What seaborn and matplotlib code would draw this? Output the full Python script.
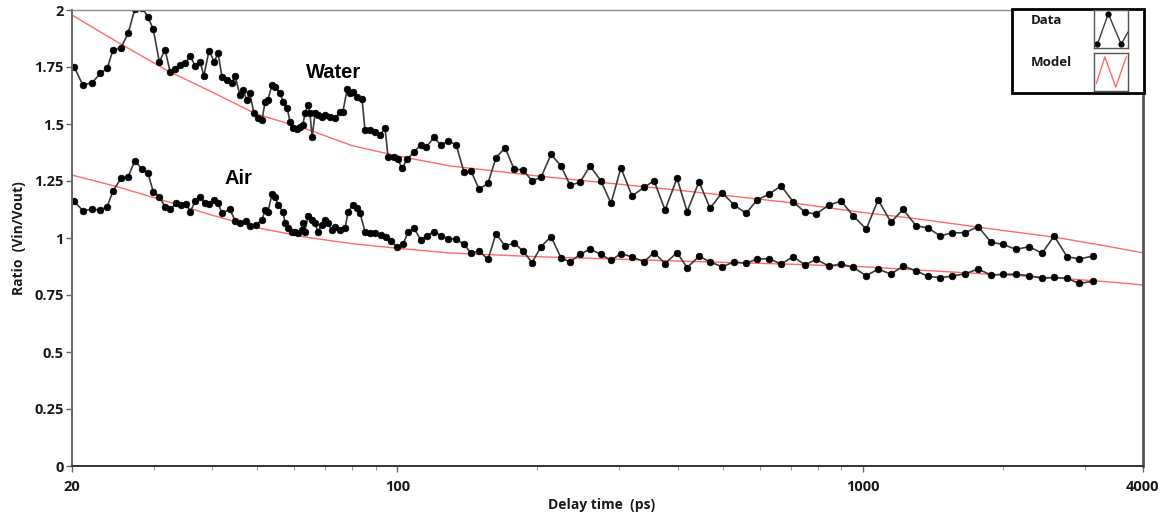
import matplotlib
matplotlib.use("Agg")
import numpy as np
import pandas as pd
import seaborn as sns
import matplotlib.pyplot as plt
from matplotlib.patches import Rectangle
from matplotlib.lines import Line2D

# ---------------- data ----------------
water_delay = [20.2, 21.1, 22.1, 23.0, 23.8, 24.5, 25.5, 26.4, 27.3, 28.3,
               29.1, 29.9, 30.8, 31.7, 32.5, 33.3, 34.1, 35.0, 35.9, 36.8,
               37.7, 38.4, 39.4, 40.4, 41.2, 42.0, 43.1, 44.1, 44.8, 45.9,
               46.6, 47.5, 48.2, 49.2, 50.2, 51.2, 52.0, 52.7, 53.8, 54.6,
               56.0, 56.8, 58.0, 58.8, 59.7, 60.9, 61.8, 62.7, 63.3, 64.3,
               64.9, 65.6, 66.6, 67.5, 68.9, 69.9, 71.7, 73.5, 75.3, 76.4,
               78.0, 79.1, 80.3, 81.9, 84.0, 85.2, 87.4, 89.6, 91.8, 94.1,
               95.5, 98.4, 100.3, 102.4, 104.9, 108.6, 112.4, 115.3, 119.9, 124.1,
               128.5, 133.7, 139.1, 144.0, 149.8, 156.6, 162.9, 170.4, 178.1, 186.3,
               194.7, 203.6, 213.9, 224.7, 235.0, 246.9, 259.4, 273.9, 287.8, 302.3,
               319.3, 338.8, 356.1, 376.0, 399.0, 419.3, 444.9, 469.8, 498.6, 529.1,
               561.4, 592.9, 628.9, 667.4, 708.4, 751.7, 793.7, 846.3, 898.5, 953.4,
               1017, 1079, 1150, 1221, 1302, 1381, 1466, 1556, 1659, 1769,
               1887, 2002, 2135, 2277, 2428, 2577, 2747, 2917, 3125]
water_ratio = [1.751, 1.671, 1.681, 1.722, 1.744, 1.825, 1.835, 1.898, 2.005, 2.01,
               1.971, 1.915, 1.773, 1.825, 1.729, 1.740, 1.757, 1.766, 1.798, 1.754,
               1.773, 1.711, 1.822, 1.773, 1.810, 1.708, 1.693, 1.681, 1.711, 1.627,
               1.649, 1.605, 1.635, 1.547, 1.525, 1.518, 1.598, 1.605, 1.671, 1.664,
               1.635, 1.598, 1.569, 1.510, 1.481, 1.476, 1.488, 1.496, 1.547, 1.583,
               1.547, 1.444, 1.547, 1.539, 1.532, 1.539, 1.532, 1.525, 1.554, 1.554,
               1.652, 1.635, 1.642, 1.620, 1.608, 1.474, 1.474, 1.466, 1.452, 1.481,
               1.357, 1.357, 1.345, 1.305, 1.345, 1.377, 1.410, 1.398, 1.441, 1.407,
               1.425, 1.410, 1.289, 1.294, 1.214, 1.240, 1.352, 1.396, 1.303, 1.298,
               1.251, 1.266, 1.367, 1.316, 1.232, 1.244, 1.316, 1.250, 1.152, 1.308,
               1.184, 1.222, 1.251, 1.123, 1.262, 1.116, 1.247, 1.130, 1.199, 1.145,
               1.108, 1.167, 1.192, 1.229, 1.159, 1.113, 1.105, 1.145, 1.162, 1.098,
               1.039, 1.167, 1.069, 1.126, 1.053, 1.045, 1.009, 1.023, 1.023, 1.050,
               0.981, 0.972, 0.950, 0.962, 0.933, 1.009, 0.918, 0.908, 0.921]

air_delay = [20.2, 21.1, 22.1, 23.0, 23.8, 24.5, 25.5, 26.4, 27.3, 28.3,
             29.1, 29.9, 30.8, 31.7, 32.5, 33.5, 34.3, 35.2, 35.9, 36.8,
             37.7, 38.6, 39.4, 40.4, 41.2, 42.0, 43.7, 44.8, 45.9, 47.3,
             48.2, 49.7, 51.2, 52.0, 52.7, 53.8, 54.6, 55.4, 56.8, 57.4,
             58.2, 59.4, 60.3, 61.2, 62.4, 62.7, 63.3, 64.3, 65.6, 66.6,
             67.5, 68.9, 69.9, 71.0, 72.4, 73.5, 75.3, 77.2, 78.4, 80.3,
             81.9, 83.2, 85.2, 87.4, 89.6, 92.3, 94.6, 96.9, 99.8, 102.9,
             105.4, 108.6, 112.4, 115.8, 119.9, 124.1, 128.5, 133.7, 139.1, 144.0,
             149.8, 156.6, 162.9, 170.4, 178.1, 186.3, 194.7, 203.6, 213.9, 224.7,
             235.0, 246.9, 259.4, 273.9, 287.8, 302.3, 319.3, 338.8, 356.1, 376.0,
             399.0, 419.3, 444.9, 469.8, 498.6, 529.1, 561.4, 592.9, 628.9, 667.4,
             708.4, 751.7, 793.7, 846.3, 898.5, 953.4, 1017, 1079, 1150, 1221,
             1302, 1381, 1466, 1556, 1659, 1769, 1887, 2002, 2135, 2277,
             2428, 2577, 2747, 2917, 3125]
air_ratio = [1.162, 1.120, 1.126, 1.123, 1.137, 1.207, 1.262, 1.269, 1.339, 1.301,
             1.287, 1.203, 1.181, 1.137, 1.126, 1.152, 1.145, 1.149, 1.115, 1.162,
             1.181, 1.152, 1.149, 1.167, 1.152, 1.108, 1.126, 1.076, 1.067, 1.076,
             1.052, 1.057, 1.079, 1.123, 1.115, 1.192, 1.181, 1.145, 1.115, 1.064,
             1.042, 1.028, 1.028, 1.020, 1.035, 1.064, 1.028, 1.096, 1.079, 1.064,
             1.028, 1.057, 1.079, 1.064, 1.035, 1.050, 1.035, 1.042, 1.115, 1.145,
             1.130, 1.108, 1.028, 1.020, 1.023, 1.015, 1.005, 0.988, 0.960, 0.973,
             1.026, 1.042, 0.991, 1.010, 1.028, 1.010, 0.997, 0.995, 0.973, 0.933,
             0.944, 0.906, 1.019, 0.965, 0.978, 0.943, 0.892, 0.962, 1.006, 0.913,
             0.895, 0.928, 0.951, 0.928, 0.902, 0.932, 0.917, 0.896, 0.936, 0.888,
             0.936, 0.870, 0.920, 0.895, 0.874, 0.895, 0.889, 0.908, 0.909, 0.886,
             0.918, 0.882, 0.906, 0.877, 0.886, 0.871, 0.835, 0.863, 0.842, 0.877,
             0.856, 0.832, 0.826, 0.833, 0.843, 0.864, 0.837, 0.841, 0.841, 0.835,
             0.823, 0.827, 0.823, 0.801, 0.810]

model_delay = [20, 25, 32, 40, 50, 63, 80, 100, 130, 200, 400, 700, 1000, 1300, 2000, 2600, 3500, 4000]
water_model = [1.978, 1.860, 1.735, 1.640, 1.542, 1.482, 1.405, 1.360, 1.316, 1.272,
               1.210, 1.155, 1.112, 1.085, 1.033, 1.003, 0.957, 0.935]
air_model = [1.276, 1.225, 1.160, 1.100, 1.045, 1.005, 0.975, 0.955, 0.934, 0.918,
             0.899, 0.885, 0.874, 0.860, 0.838, 0.825, 0.805, 0.794]

x_major = [20, 100, 1000, 4000]
x_major_labels = ["20", "100", "1000", "4000"]
x_minor = [30, 40, 50, 60, 70, 80, 90, 200, 300, 400, 500, 600, 700, 800, 900, 2000, 3000]
y_ticks = [0, 0.25, 0.5, 0.75, 1, 1.25, 1.5, 1.75, 2]
y_tick_labels = ["0", "0.25", "0.5", "0.75", "1", "1.25", "1.5", "1.75", "2"]

# ---------------- figure ----------------
sns.set_style("white")
plt.rcParams['font.family'] = ['Open Sans', 'DejaVu Sans']

W, H = 1162, 517
fig = plt.figure(figsize=(W / 100, H / 100), dpi=100)
ax = fig.add_axes([72 / W, 1 - 466 / H, (1143 - 72) / W, (466 - 10) / H])

def fx(x):
    return x / W

def fy(y):
    return 1 - y / H

red = "#ff6a6a"
for d, r in [(model_delay, water_model), (model_delay, air_model)]:
    sns.lineplot(x=d, y=r, ax=ax, color=red, lw=1.0, estimator=None, sort=False)

for d, r in [(water_delay, water_ratio), (air_delay, air_ratio)]:
    sns.lineplot(x=d, y=r, ax=ax, color="#3c3c3c", lw=1.2, estimator=None, sort=False,
                 marker="o", markersize=4.8, markerfacecolor="black",
                 markeredgecolor="black", markeredgewidth=0.5)

ax.set_xscale("log")
ax.set_xlim(20, 4000)
ax.set_ylim(0, 2)
ax.set_xticks(x_major)
ax.set_xticklabels(x_major_labels)
ax.set_xticks(x_minor, minor=True)
ax.set_xticklabels([], minor=True)
ax.set_yticks(y_ticks)
ax.set_yticklabels(y_tick_labels)

ax.tick_params(axis="both", which="both", bottom=True, left=True, top=False, right=False)
ax.tick_params(axis="both", which="major", direction="out", length=4, width=1,
               color="#666666", labelsize=10.5, labelcolor="#1a1a1a", pad=2)
ax.tick_params(axis="x", which="major", pad=6)
ax.tick_params(axis="x", which="minor", direction="out", length=3, width=0.8, color="#999999")
for lab in ax.get_xticklabels() + ax.get_yticklabels():
    lab.set_fontweight("bold")

ax.spines["left"].set_color("#666666")
ax.spines["left"].set_linewidth(1.4)
ax.spines["bottom"].set_color("#333333")
ax.spines["bottom"].set_linewidth(1.4)
ax.spines["top"].set_color("#8a8a8a")
ax.spines["top"].set_linewidth(1.0)
ax.spines["right"].set_color("#555555")
ax.spines["right"].set_linewidth(2.0)
ax.grid(False)

ax.set_xlabel("")
ax.set_ylabel("")
fig.text(fx(602), fy(505), "Delay time  (ps)", ha="center", va="center",
         fontsize=10, fontweight="bold", color="#1a1a1a")
fig.text(fx(19), fy(238), "Ratio  (Vin/Vout)", ha="center", va="center",
         rotation=90, fontsize=10, fontweight="bold", color="#1a1a1a")

# annotations
ax.text(72.8, 1.724, "Water", ha="center", va="center", fontsize=14.5,
        fontweight="bold", family=["Liberation Sans", "DejaVu Sans"], color="black")
ax.text(45.5, 1.263, "Air", ha="center", va="center", fontsize=14.5,
        fontweight="bold", family=["Liberation Sans", "DejaVu Sans"], color="black")

# legend box
fig.patches.append(Rectangle((fx(1012), fy(93)), fx(1144) - fx(1012), fy(9) - fy(93),
                             transform=fig.transFigure, fill=True, facecolor="white",
                             edgecolor="black", lw=2.0, zorder=5))
fig.text(fx(1031), fy(21), "Data", ha="left", va="center", fontsize=9.5,
         fontweight="bold", color="#1a1a1a", zorder=6)
fig.text(fx(1031), fy(63), "Model", ha="left", va="center", fontsize=9.5,
         fontweight="bold", color="#1a1a1a", zorder=6)

icon1 = fig.add_axes([fx(1094), fy(48), fx(1128) - fx(1094), fy(10) - fy(48)], zorder=7)
icon2 = fig.add_axes([fx(1094), fy(91), fx(1128) - fx(1094), fy(53) - fy(91)], zorder=7)
for ic in (icon1, icon2):
    ic.set_xlim(0, 1)
    ic.set_ylim(0, 1)
    ic.set_xticks([])
    ic.set_yticks([])
    for s in ic.spines.values():
        s.set_color("#555555")
        s.set_linewidth(1.0)
icon1.add_line(Line2D([0.1, 0.42, 0.8, 1.0], [0.1, 0.9, 0.1, 0.42], color="#3c3c3c", lw=1.0))
icon1.add_line(Line2D([0.1, 0.42, 0.8], [0.1, 0.9, 0.1], ls="none", marker="o",
                      markersize=3.5, color="black"))
icon2.add_line(Line2D([0.07, 0.32, 0.64, 0.95], [0.2, 0.9, 0.1, 0.9], color=red, lw=1.0))

fig.savefig("out.png", dpi=100)
